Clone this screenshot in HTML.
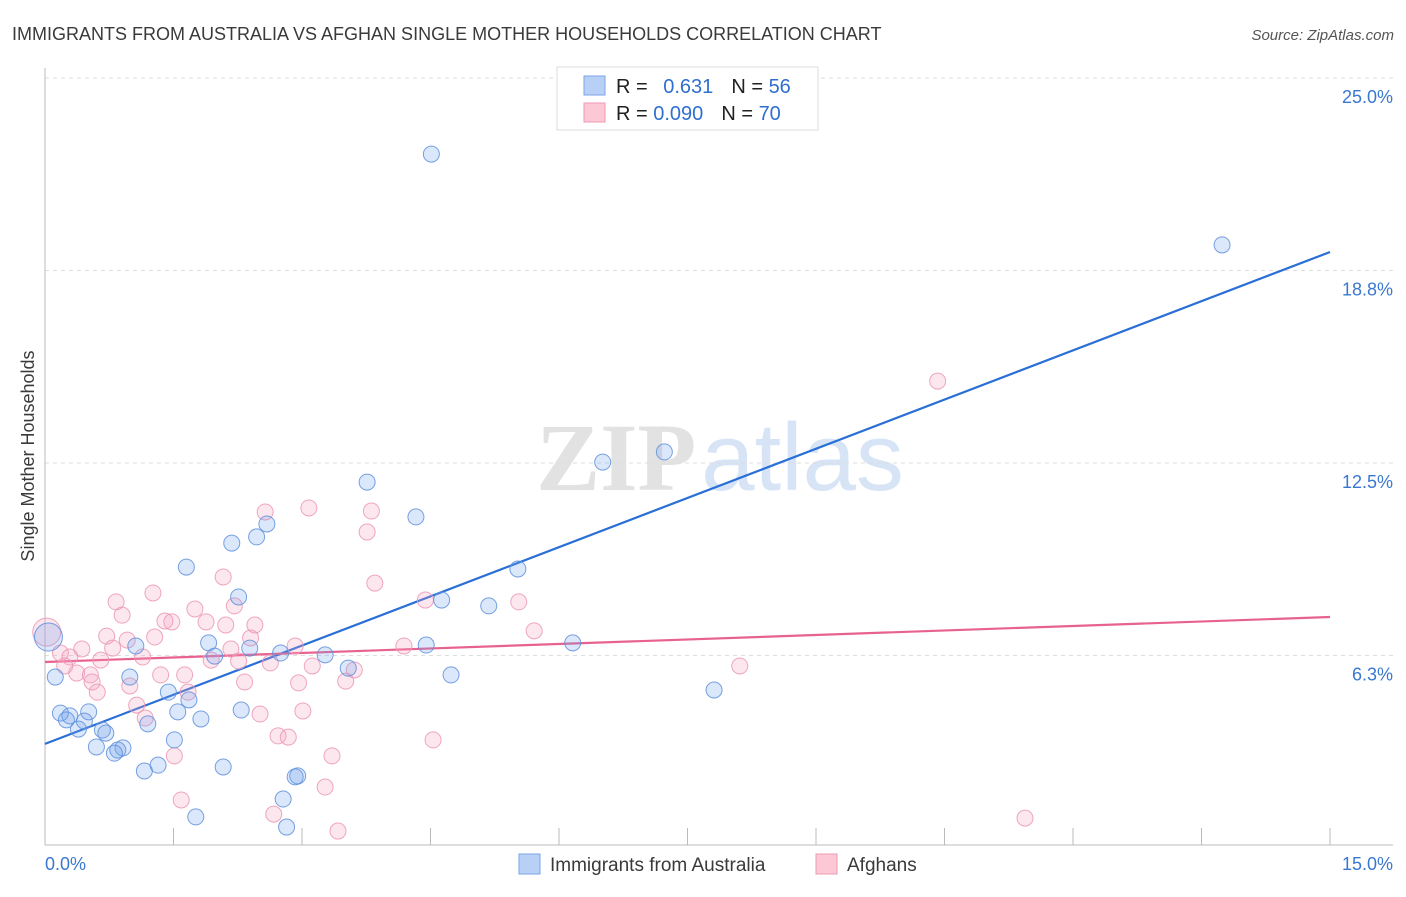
<!DOCTYPE html>
<html><head><meta charset="utf-8"><style>
body{margin:0;background:#fff;font-family:"Liberation Sans",sans-serif;}
svg text{font-family:"Liberation Sans",sans-serif;}
</style></head><body>
<svg id="chart" width="1406" height="892" xmlns="http://www.w3.org/2000/svg">
<text x="12" y="40" font-size="18" fill="#3a3a3a">IMMIGRANTS FROM AUSTRALIA VS AFGHAN SINGLE MOTHER HOUSEHOLDS CORRELATION CHART</text>
<text x="1394" y="40" font-size="15" fill="#555" text-anchor="end" font-style="italic">Source: ZipAtlas.com</text>
<text x="720" y="490" font-size="96" text-anchor="middle"><tspan fill="#e2e2e2" font-family="Liberation Serif" font-weight="bold">ZIP</tspan><tspan fill="#d6e4f6" dx="5">atlas</tspan></text>
<text transform="translate(34,456) rotate(-90)" font-size="18" fill="#3a3a3a" text-anchor="middle">Single Mother Households</text>
<g id="grid"></g><g id="axes"></g><g id="lines"></g><g id="points"></g>
<g>
<rect x="557" y="67" width="261" height="63" fill="#fff" stroke="#ddd"/>
<rect x="584" y="76" width="21" height="19" fill="#b8d0f5" stroke="#7aa6e8"/>
<rect x="584" y="103" width="21" height="19" fill="#fcc8d6" stroke="#ef9ab4"/>
<text x="616" y="93" font-size="20" fill="#222">R = <tspan fill="#2f6fd0" dx="10">0.631</tspan><tspan dx="18">N = </tspan><tspan fill="#2f6fd0">56</tspan></text>
<text x="616" y="120" font-size="20" fill="#222">R = <tspan fill="#2f6fd0">0.090</tspan><tspan dx="18">N = </tspan><tspan fill="#2f6fd0">70</tspan></text>
</g>
<g>
<rect x="519" y="854" width="21" height="20" fill="#b8d0f5" stroke="#7aa6e8"/>
<text x="550" y="871" font-size="19" fill="#3a3a3a">Immigrants from Australia</text>
<rect x="816" y="854" width="21" height="20" fill="#fcc8d6" stroke="#ef9ab4"/>
<text x="847" y="871" font-size="19" fill="#3a3a3a">Afghans</text>
</g>
</svg>
<script>
const yTicks=[25.0,18.8,12.5,6.3];
const yTickVals=[25,18.75,12.5,6.25];
const xTickLabels=["0.0%","15.0%"];
const blueX=[4.51,13.74,6.51,7.23,3.76,4.33,2.59,2.47,2.18,1.65,5.52,2.26,4.63,5.18,6.16,4.45,1.06,2.39,1.91,2.75,3.27,1.98,3.54,4.74,0.12,0.99,7.81,1.44,1.68,0.18,0.51,0.29,1.55,2.29,0.46,0.25,1.20,1.82,0.39,0.67,0.71,1.51,0.60,0.91,0.85,0.81,1.32,1.16,2.08,2.95,2.92,2.78,1.76,2.82,0.04];
const blueY=[22.53,19.58,12.53,12.86,11.88,10.75,10.52,10.10,9.90,9.12,9.06,8.15,8.05,7.86,6.66,6.59,6.56,6.49,6.66,6.33,6.27,6.23,5.84,5.62,5.55,5.55,5.13,5.06,4.81,4.38,4.42,4.29,4.42,4.48,4.12,4.16,4.03,4.19,3.86,3.83,3.73,3.51,3.28,3.25,3.18,3.08,2.69,2.50,2.63,2.34,2.31,1.59,1.01,0.68,6.85];
const pinkX=[10.42,3.08,3.81,2.57,3.76,2.08,3.85,1.26,0.83,5.53,4.44,2.21,1.75,0.90,1.40,1.48,1.88,2.45,2.11,5.71,0.72,1.28,0.96,2.40,2.92,4.19,0.43,0.79,2.17,0.18,0.29,1.14,0.65,1.94,2.26,3.12,3.61,0.23,2.63,8.11,0.37,1.35,1.63,0.53,0.55,0.99,2.96,3.51,1.67,0.61,2.33,1.07,1.17,2.51,3.01,2.72,2.84,4.53,1.51,3.35,1.59,3.27,2.67,11.44,3.42,0.02];
const pinkY=[15.16,11.04,10.94,10.91,10.26,8.80,8.60,8.28,7.99,7.99,8.05,7.86,7.76,7.56,7.37,7.34,7.34,7.24,7.24,7.05,6.88,6.85,6.75,6.82,6.56,6.56,6.46,6.49,6.46,6.33,6.20,6.20,6.10,6.10,6.07,5.91,5.78,5.91,6.01,5.91,5.68,5.62,5.62,5.62,5.39,5.26,5.36,5.42,5.06,5.06,5.39,4.64,4.22,4.35,4.45,3.64,3.60,3.51,2.99,2.99,1.56,1.98,1.10,0.97,0.55,7.01];
const blueTrend=[3.38,19.35];
const pinkTrend=[6.04,7.5];
const NS="http://www.w3.org/2000/svg";
const xs=v=>45+v*(1285/15);
const ys=v=>78+(25-v)*30.8;
function mk(tag,attrs,parent){const e=document.createElementNS(NS,tag);for(const k in attrs)e.setAttribute(k,attrs[k]);document.getElementById(parent).appendChild(e);return e;}
yTickVals.forEach((v,i)=>{
 const g=mk('line',{x1:45,x2:1393,y1:ys(v),y2:ys(v),stroke:'#ddd','stroke-dasharray':'4,4'},'grid');
 
 
 const t=mk('text',{x:1393,y:ys(v)+25,'font-size':18,fill:'#3a78d0','text-anchor':'end'},'grid');
 t.textContent=yTicks[i].toFixed(1)+'%';
 
 
});
const ax=mk('line',{x1:45,x2:45,y1:68,y2:845,stroke:'#bbb'},'axes');


const bx=mk('line',{x1:45,x2:1393,y1:845,y2:845,stroke:'#bbb'},'axes');


for(let i=0;i<=10;i++){const t=mk('line',{x1:xs(i*1.5),x2:xs(i*1.5),y1:828,y2:845,stroke:'#bbb'},'axes');
 
 }
const l0=mk('text',{x:45,y:870,'font-size':18,fill:'#3a78d0'},'axes');l0.textContent=xTickLabels[0];


const l1=mk('text',{x:1393,y:870,'font-size':18,fill:'#3a78d0','text-anchor':'end'},'axes');l1.textContent=xTickLabels[1];


function dots(X,Y,fill,stroke,name){X.forEach((x,i)=>{const big=i===X.length-1;
 const c=mk('circle',{cx:xs(x),cy:ys(Y[i]),r:big?14:8,fill:fill,stroke:stroke,'stroke-width':1},'points');
 
 });}
dots(pinkX,pinkY,'rgba(245,160,190,0.25)','rgba(236,150,180,0.85)','afghans-point');
dots(blueX,blueY,'rgba(110,160,235,0.25)','rgba(95,145,220,0.85)','australia-point');
const bl=mk('line',{x1:xs(0),y1:ys(blueTrend[0]),x2:xs(15),y2:ys(blueTrend[1]),stroke:'#2a6fd6','stroke-width':2.2},'lines');


const pl=mk('line',{x1:xs(0),y1:ys(pinkTrend[0]),x2:xs(15),y2:ys(pinkTrend[1]),stroke:'#e8628f','stroke-width':2.2},'lines');


</script>
</body></html>
